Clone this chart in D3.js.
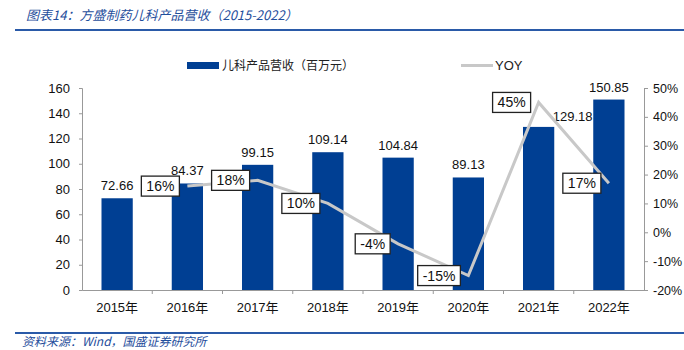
<!DOCTYPE html>
<html>
<head>
<meta charset="utf-8">
<script src="https://cdn.jsdelivr.net/npm/d3@7"></script>
<style>
  body { margin: 0; background: #fff; }
  svg { display: block; }
</style>
</head>
<body>
<div class="chart"></div>
<script>
// Data
const years = ["2015年", "2016年", "2017年", "2018年", "2019年", "2020年", "2021年", "2022年"];
const revenue = [72.66, 84.37, 99.15, 109.14, 104.84, 89.13, 129.18, 150.85];
const yoy = [null, 16, 18, 10, -4, -15, 45, 17]; // percent
const leftTicks = [0, 20, 40, 60, 80, 100, 120, 140, 160];
const rightTicks = [-20, -10, 0, 10, 20, 30, 40, 50];

const W = 684, H = 350;
const margin = { top: 88, right: 40, bottom: 60, left: 82 };
const width = W - margin.left - margin.right,
  height = H - margin.top - margin.bottom;

const numFont = "'Liberation Sans', Arial, sans-serif";
const cjkFont = "'Noto Sans CJK SC', sans-serif";
const barColor = "#003f93";
const lineColor = "#c8c8c8";
const blue = "#1f4e9c";

const root = d3.select(".chart").append("svg")
  .attr("width", W).attr("height", H);

// Title + rules
root.append("text")
  .attr("x", 26).attr("y", 20)
  .attr("font-family", cjkFont)
  .attr("font-size", 13)
  .attr("font-style", "italic")
  .attr("fill", blue)
  .text("图表14：方盛制药儿科产品营收（2015-2022）");
root.append("line")
  .attr("x1", 15).attr("x2", W).attr("y1", 30).attr("y2", 30)
  .attr("stroke", "#2a5aa8").attr("stroke-width", 2);
root.append("line")
  .attr("x1", 15).attr("x2", W).attr("y1", 333).attr("y2", 333)
  .attr("stroke", "#2a5aa8").attr("stroke-width", 2);
root.append("text")
  .attr("x", 22).attr("y", 346)
  .attr("font-family", cjkFont)
  .attr("font-size", 12)
  .attr("font-style", "italic")
  .attr("fill", blue)
  .text("资料来源：Wind，国盛证券研究所");

// Legend
const legend = root.append("g");
legend.append("rect")
  .attr("x", 187).attr("y", 62).attr("width", 32).attr("height", 7)
  .attr("fill", barColor);
legend.append("text")
  .attr("x", 222).attr("y", 69.5)
  .attr("font-family", cjkFont).attr("font-size", 12)
  .attr("fill", "#222")
  .text("儿科产品营收（百万元）");
legend.append("line")
  .attr("x1", 461).attr("x2", 493).attr("y1", 65.5).attr("y2", 65.5)
  .attr("stroke", lineColor).attr("stroke-width", 3);
legend.append("text")
  .attr("x", 495).attr("y", 70)
  .attr("font-family", numFont).attr("font-size", 13)
  .attr("fill", "#222")
  .text("YOY");

const svg = root.append("g")
  .attr("transform", `translate(${margin.left},${margin.top})`);

// Scales
const x = d3.scaleBand().domain(years).range([0, width]);
const y = d3.scaleLinear().domain([0, 160]).range([height, 0]);
const y2 = d3.scaleLinear().domain([-20, 50]).range([height, 0]);
const barW = x.step() * 0.445;

// Left axis
const gL = svg.append("g")
  .call(d3.axisLeft(y).tickValues(leftTicks).tickSize(3).tickPadding(9));
// Right axis
const gR = svg.append("g")
  .attr("transform", `translate(${width},0)`)
  .call(d3.axisRight(y2).tickValues(rightTicks).tickSize(4).tickPadding(5)
    .tickFormat(d => d + "%"));
[gL, gR].forEach(g => {
  g.select(".domain").attr("stroke", "#999");
  g.selectAll(".tick line").attr("stroke", "#999");
  g.selectAll(".tick text")
    .attr("font-family", numFont).attr("font-size", 13).attr("fill", "#111");
});
gR.selectAll(".tick text").attr("font-size", 12.5);

// Bars
svg.selectAll(".bar")
  .data(revenue)
  .join("rect")
  .attr("class", "bar")
  .attr("x", (d, i) => x(years[i]) + (x.bandwidth() - barW) / 2)
  .attr("y", d => y(d))
  .attr("width", barW)
  .attr("height", d => height - y(d))
  .attr("fill", barColor);

// X axis (drawn over bars)
const gX = svg.append("g")
  .attr("transform", `translate(0,${height})`)
  .call(d3.axisBottom(x).tickSize(0).tickPadding(13));
gX.select(".domain").attr("stroke", "#999");
gX.selectAll(".tick text")
  .attr("font-family", `'Liberation Sans', 'Noto Sans CJK SC', sans-serif`)
  .attr("font-size", 13).attr("fill", "#111");
// category separators
gX.selectAll(".sep")
  .data(years.slice(1))
  .join("line")
  .attr("class", "sep")
  .attr("x1", d => x(d)).attr("x2", d => x(d))
  .attr("y1", 0).attr("y2", 4)
  .attr("stroke", "#999");

// Bar value labels
svg.selectAll(".val")
  .data(revenue)
  .join("text")
  .attr("class", "val")
  .attr("x", (d, i) => x(years[i]) + x.bandwidth() / 2 + (i === 6 ? 34 : 0))
  .attr("y", (d, i) => y(d) - (i === 6 ? 6 : 8))
  .attr("text-anchor", "middle")
  .attr("font-family", numFont).attr("font-size", 13)
  .attr("fill", "#111")
  .text(d => d.toFixed(2));

// YOY line
const pts = yoy.map((v, i) => ({ year: years[i], v })).filter(d => d.v !== null);
const line = d3.line()
  .x(d => x(d.year) + x.bandwidth() / 2)
  .y(d => y2(d.v));
svg.append("path")
  .datum(pts)
  .attr("fill", "none")
  .attr("stroke", lineColor)
  .attr("stroke-width", 3)
  .attr("d", line);

// YOY labels in boxes, left of each point
const lab = svg.selectAll(".yoy")
  .data(pts)
  .join("g")
  .attr("class", "yoy");
lab.append("text")
  .attr("font-family", numFont).attr("font-size", 14)
  .attr("fill", "#111")
  .attr("text-anchor", "end")
  .attr("x", d => x(d.year) + x.bandwidth() / 2 - 13)
  .attr("y", d => y2(d.v) + 5)
  .text(d => d.v + "%");
lab.each(function () {
  const g = d3.select(this);
  const bb = g.select("text").node().getBBox();
  g.insert("rect", "text")
    .attr("x", bb.x - 5).attr("y", bb.y - 2)
    .attr("width", bb.width + 10).attr("height", bb.height + 4)
    .attr("fill", "#fff")
    .attr("stroke", "#222").attr("stroke-width", 1.3);
});
</script>
</body>
</html>
